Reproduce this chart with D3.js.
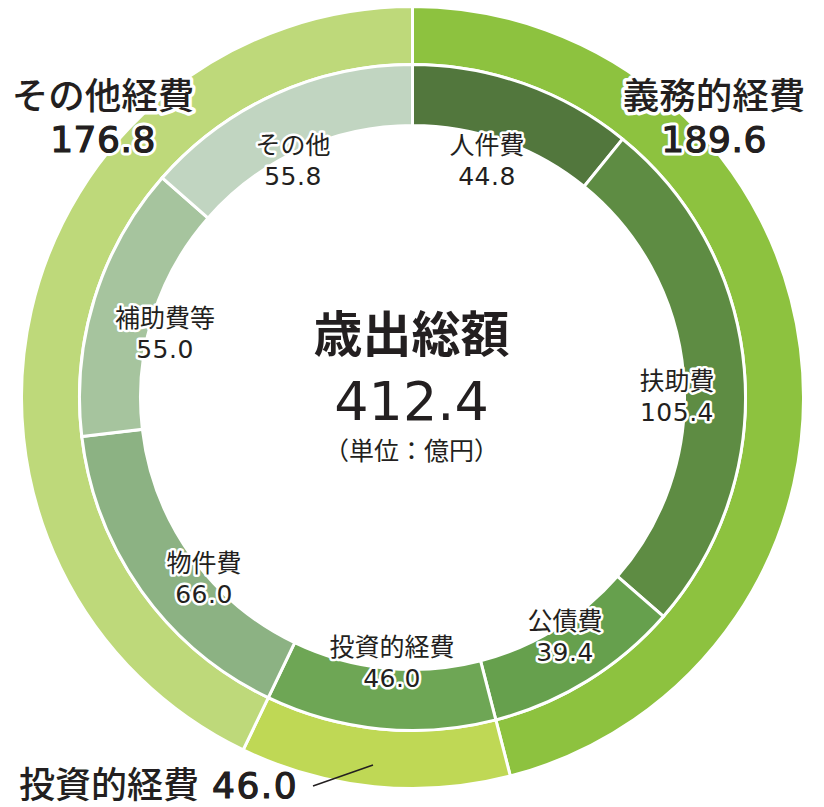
<!DOCTYPE html>
<html>
<head>
<meta charset="utf-8">
<script src="https://cdn.jsdelivr.net/npm/d3@7"></script>
<style>
  body { margin: 0; background: #fff; }
  text { font-family: "Noto Sans CJK JP", sans-serif; fill: #231f20; }
  .num { font-family: "DejaVu Sans", sans-serif; }
  .halo { stroke: #fff; stroke-linejoin: round; paint-order: stroke; }
  .thick { stroke: #231f20; stroke-width: 1.1; }
</style>
</head>
<body>
<svg id="chart" width="824" height="807"></svg>
<script>
  // inner ring: detailed items (億円)
  const innerNames = ["人件費", "扶助費", "公債費", "投資的経費", "物件費", "補助費等", "その他"];
  const innerValues = [44.8, 105.4, 39.4, 46.0, 66.0, 55.0, 55.8];
  const innerColors = ["#52773d", "#5e8c43", "#66a04d", "#6ea655", "#8cb283", "#a6c49e", "#c1d5c1"];
  // outer ring: groups
  const outerNames = ["義務的経費", "投資的経費", "その他経費"];
  const outerValues = [189.6, 46.0, 176.8];
  const outerColors = ["#8dc23f", "#bfd855", "#bed97a"];

  const total = "412.4";

  // label spots for inner items (centre of the name line)
  const innerLabelPos = [[487, 145], [677, 381], [565, 621], [392, 647], [204, 563], [165, 318], [293, 145]];

  const cx = 412.5, cy = 397.5;
  const svg = d3.select("#chart");
  const g = svg.append("g").attr("transform", `translate(${cx},${cy})`);

  const pie = d3.pie().sort(null).value(d => d);

  const outerArc = d3.arc().innerRadius(333).outerRadius(391);
  const innerArc = d3.arc().innerRadius(272).outerRadius(333);

  g.append("g").selectAll("path")
    .data(pie(outerValues))
    .join("path")
    .attr("d", outerArc)
    .attr("fill", (d, i) => outerColors[i])
    .attr("stroke", "#fff")
    .attr("stroke-width", 3);

  g.append("g").selectAll("path")
    .data(pie(innerValues))
    .join("path")
    .attr("d", innerArc)
    .attr("fill", (d, i) => innerColors[i])
    .attr("stroke", "#fff")
    .attr("stroke-width", 3);

  // inner labels
  innerNames.forEach((name, i) => {
    const [x, y] = innerLabelPos[i];
    svg.append("text")
      .attr("class", "halo")
      .attr("x", x).attr("y", y + 9)
      .attr("text-anchor", "middle")
      .attr("font-size", 25)
      .attr("stroke-width", 5)
      .text(name);
    svg.append("text")
      .attr("class", "halo num")
      .attr("x", x).attr("y", y + 40)
      .attr("text-anchor", "middle")
      .attr("font-size", 25)
      .attr("letter-spacing", 0.5)
      .attr("stroke-width", 5)
      .text(innerValues[i].toFixed(1));
  });

  // medium-weight number: white halo under, thin dark stroke on top
  function mediumNum(x, y, size, str, anchor, spacing) {
    [["halo", 7], ["thick", null]].forEach(([cls, sw]) => {
      const t = svg.append("text")
        .attr("class", cls + " num")
        .attr("x", x).attr("y", y)
        .attr("text-anchor", anchor)
        .attr("font-size", size)
        .attr("letter-spacing", spacing)
        .text(str);
      if (sw) t.attr("stroke-width", sw);
    });
  }

  // outer labels
  const outerLabel = (x, y, name, val) => {
    svg.append("text")
      .attr("class", "halo")
      .attr("x", x).attr("y", y)
      .attr("text-anchor", "middle")
      .attr("font-size", 36.5)
      .attr("font-weight", 500)
      .attr("stroke-width", 7)
      .text(name);
    mediumNum(x, y + 43, 36, val.toFixed(1), "middle", 0.5);
  };
  outerLabel(103, 109, outerNames[2], outerValues[2]);
  outerLabel(714, 109, outerNames[0], outerValues[0]);

  svg.append("text")
    .attr("class", "halo")
    .attr("x", 19).attr("y", 798)
    .attr("font-size", 36)
    .attr("font-weight", 500)
    .attr("stroke-width", 7)
    .text(outerNames[1]);
  mediumNum(212, 798, 36, outerValues[1].toFixed(1), "start", 1.5);

  svg.append("line")
    .attr("x1", 313).attr("y1", 786)
    .attr("x2", 373).attr("y2", 765)
    .attr("stroke", "#231f20")
    .attr("stroke-width", 1.5);

  // center
  svg.append("text")
    .attr("x", cx - 1).attr("y", 352)
    .attr("text-anchor", "middle")
    .attr("font-size", 49)
    .attr("font-weight", 700)
    .text("歳出総額");
  svg.append("text")
    .attr("class", "num")
    .attr("x", cx - 1).attr("y", 420)
    .attr("text-anchor", "middle")
    .attr("font-size", 54)
    .text(total);
  svg.append("text")
    .attr("x", cx - 1).attr("y", 460)
    .attr("text-anchor", "middle")
    .attr("font-size", 25)
    .text("（単位：億円）");
</script>
</body>
</html>
